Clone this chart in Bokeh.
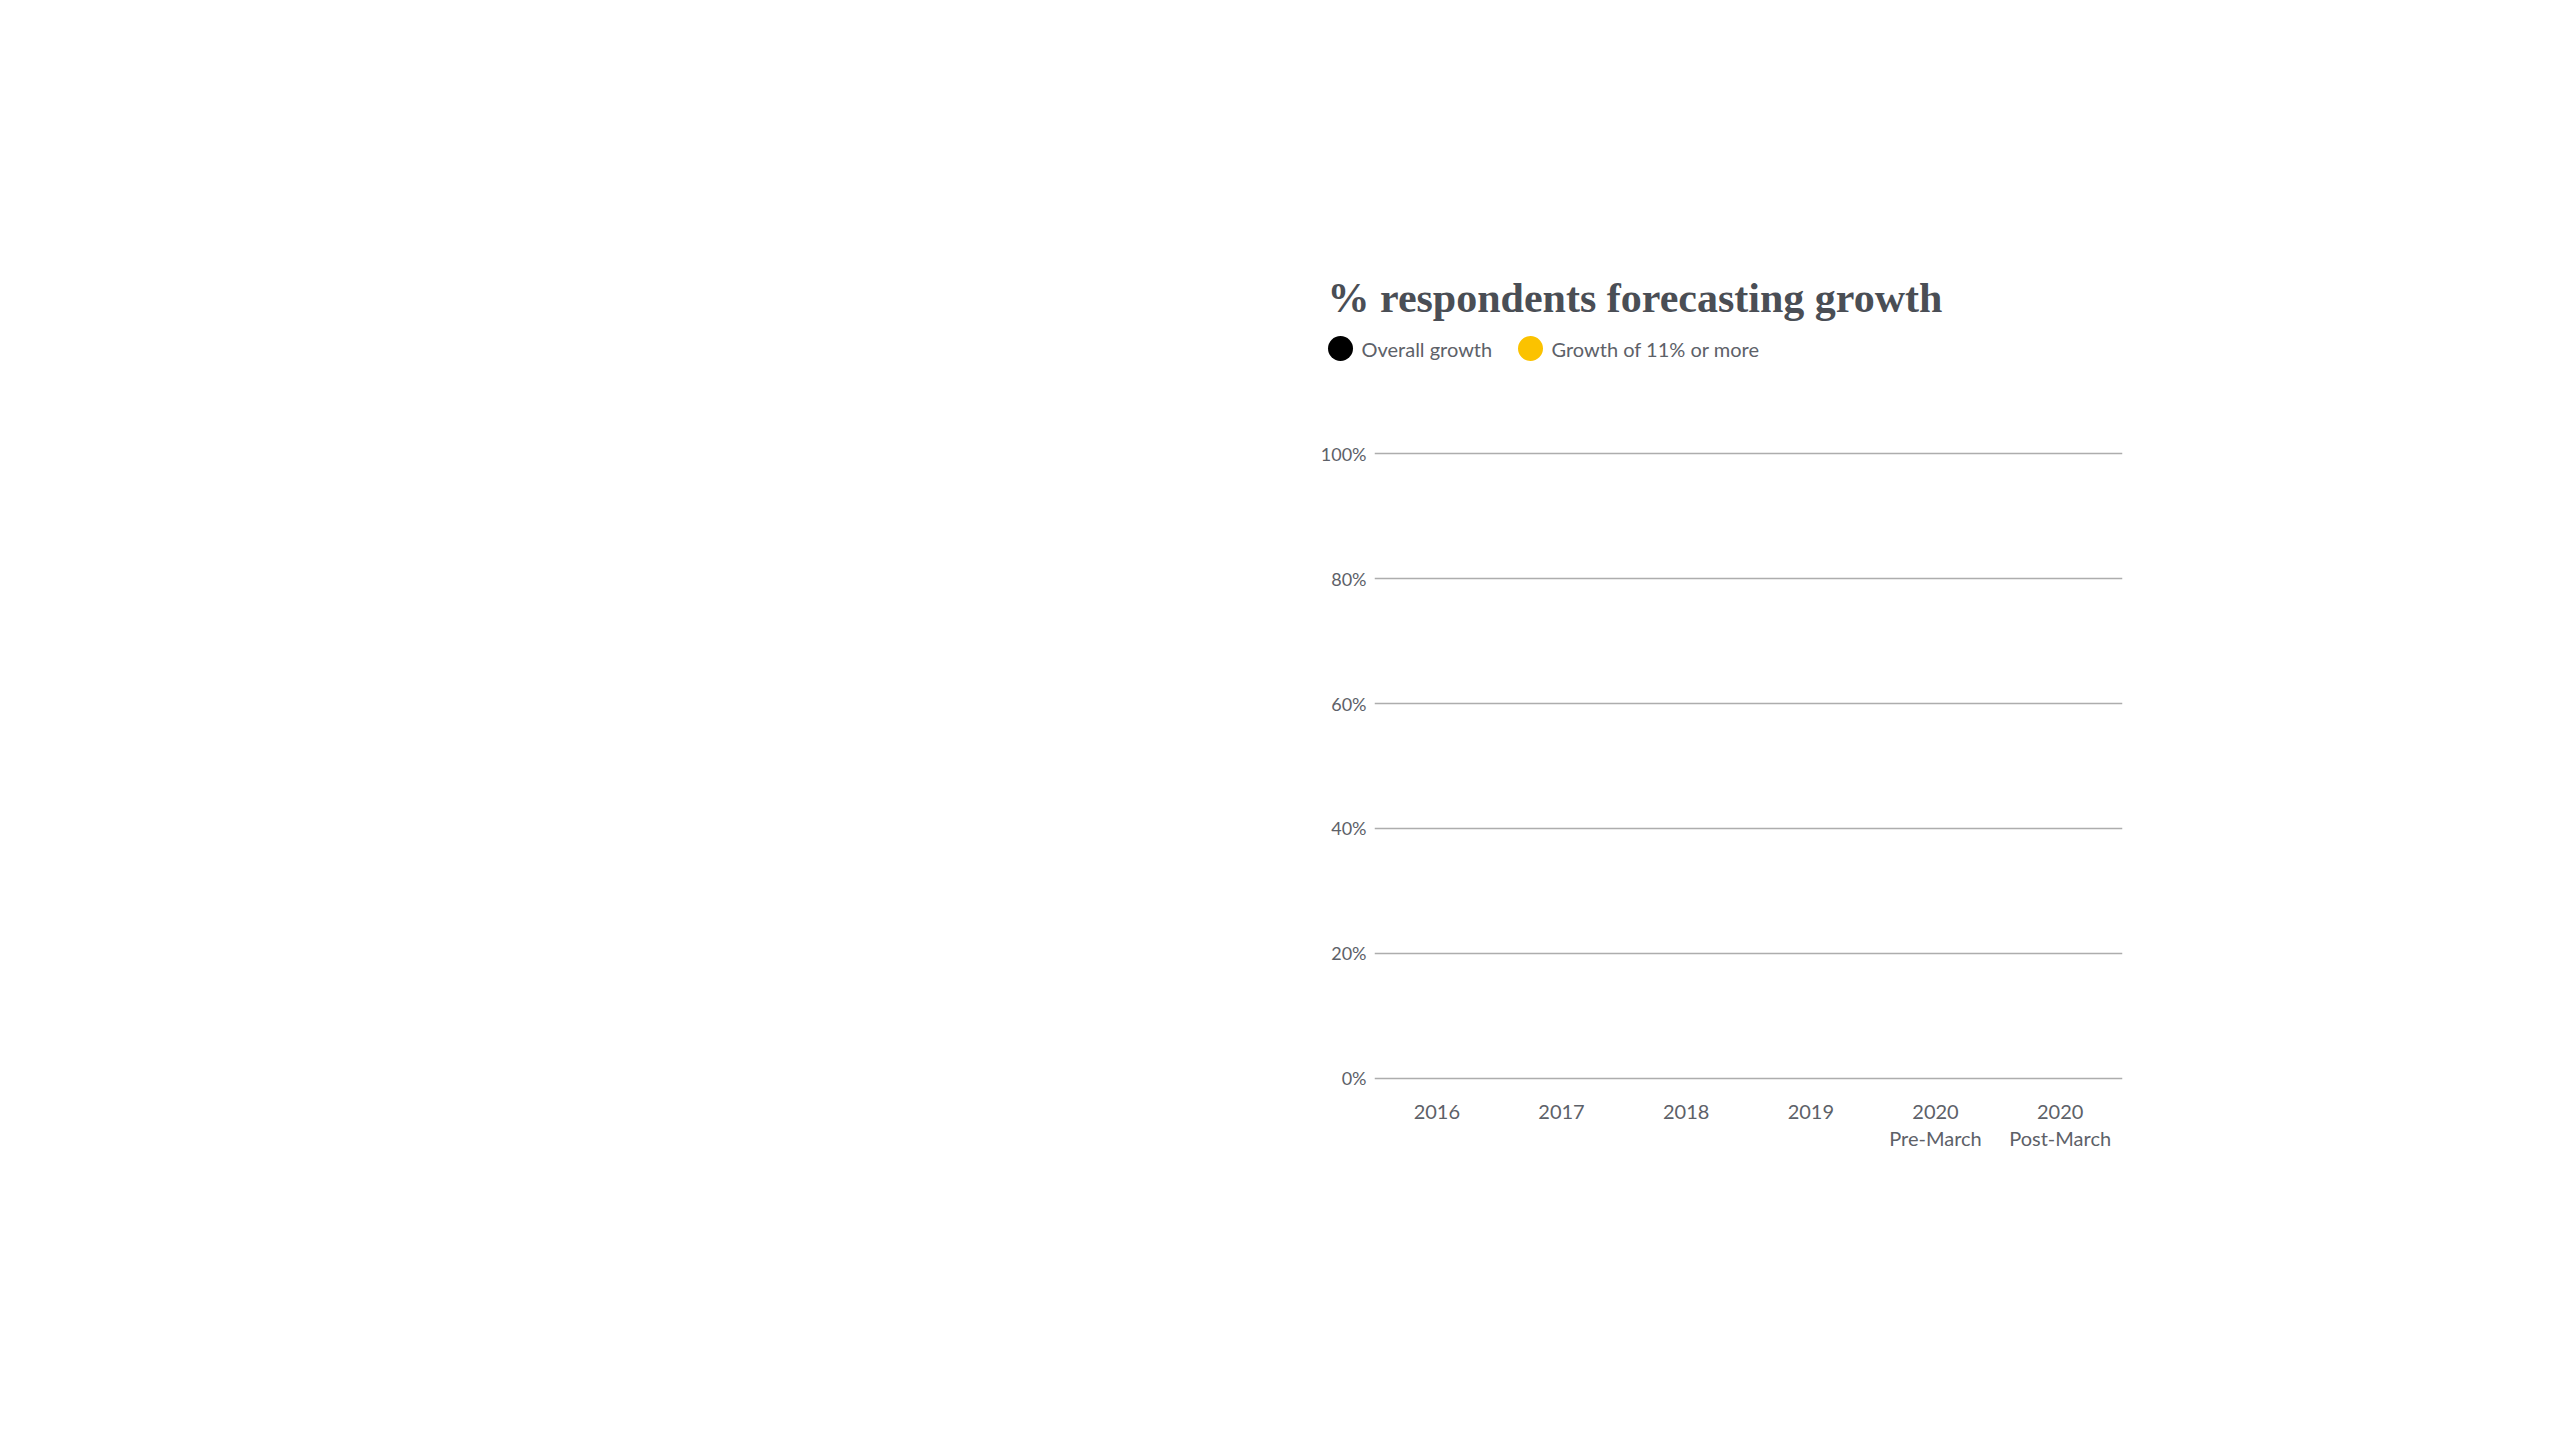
from bokeh.plotting import figure
from bokeh.layouts import column
from bokeh.models import FixedTicker, ColumnDataSource, Range1d
from bokeh.core.properties import value
from bokeh.embed import file_html
from bokeh.resources import INLINE

# ---- data -------------------------------------------------------------
categories = ["2016", "2017", "2018", "2019", "2020\nPre-March", "2020\nPost-March"]
y_ticks = [0, 20, 40, 60, 80, 100]
y_tick_labels = ["0%", "20%", "40%", "60%", "80%", "100%"]
series_names = ["Overall growth", "Growth of 11% or more"]
series_colors = ["#000000", "#fbc200"]
# no marks are drawn in the reference: both series are empty
overall_growth = []
growth_11_plus = []
title_text = "% respondents forecasting growth"

TEXT = "#5d6168"
TITLE = "#4a4e55"
GRID = "#adadad"
SANS = "Lato"

# ---- header (title + legend); header units are pixels -----------------
HW, HH = 700, 140
head = figure(x_range=Range1d(0, HW), y_range=Range1d(0, HH),
              frame_width=HW, frame_height=HH,
              min_border_left=1299, min_border_top=259,
              min_border_right=0, min_border_bottom=0,
              frame_align=False,
              output_backend="svg", toolbar_location=None,
              background_fill_color="white", border_fill_color="white")
head.outline_line_color = None
head.axis.visible = False
head.grid.visible = False

head.text(x=[28], y=[102], text=[title_text], text_font=value("Liberation Serif"),
          text_font_style="bold", text_font_size="42px", text_color=TITLE,
          text_baseline="alphabetic", text_align="left")

legend_x = [41, 231]          # swatch centres, header pixels
legend_y = [51, 51]
head.scatter(x=legend_x, y=legend_y, size=25, color=series_colors, line_color=None)
head.text(x=[lx + 21 for lx in legend_x], y=legend_y, text=series_names,
          text_font=value(SANS), text_font_size="20px", text_color=TEXT,
          text_baseline="middle", text_align="left")

# ---- chart -----------------------------------------------------------
p = figure(x_range=categories, y_range=Range1d(-0.5, 100.5),
           frame_width=748, frame_height=631,
           min_border_left=1374, min_border_top=51,
           min_border_right=60, min_border_bottom=200,
           frame_align=False,
           output_backend="svg", toolbar_location=None,
           background_fill_color="white", border_fill_color="white")
p.outline_line_color = None

src_a = ColumnDataSource(dict(x=[c for c, _ in zip(categories, overall_growth)], y=overall_growth))
src_b = ColumnDataSource(dict(x=[c for c, _ in zip(categories, growth_11_plus)], y=growth_11_plus))
p.scatter("x", "y", source=src_a, size=24, color=series_colors[0])
p.scatter("x", "y", source=src_b, size=24, color=series_colors[1])

p.xaxis.axis_line_color = None
p.xaxis.major_tick_line_color = None
p.xaxis.minor_tick_line_color = None
p.xaxis.major_label_text_font = SANS
p.xaxis.major_label_text_font_size = "20px"
p.xaxis.major_label_text_color = TEXT
p.xaxis.major_label_standoff = 11
p.xaxis.major_label_text_line_height = 1.15

p.yaxis.axis_line_color = None
p.yaxis.major_tick_line_color = None
p.yaxis.minor_tick_line_color = None
p.yaxis.ticker = FixedTicker(ticks=y_ticks)
p.yaxis.major_label_overrides = {t: l for t, l in zip(y_ticks, y_tick_labels)}
p.yaxis.major_label_text_font = SANS
p.yaxis.major_label_text_font_size = "18px"
p.yaxis.major_label_text_color = TEXT
p.yaxis.major_label_standoff = 2

p.xgrid.grid_line_color = None
p.ygrid.ticker = FixedTicker(ticks=y_ticks)
p.ygrid.grid_line_color = GRID
p.ygrid.grid_line_width = 1.5

layout = column(head, p, spacing=0)
open("out.html", "w").write(file_html(layout, INLINE))
